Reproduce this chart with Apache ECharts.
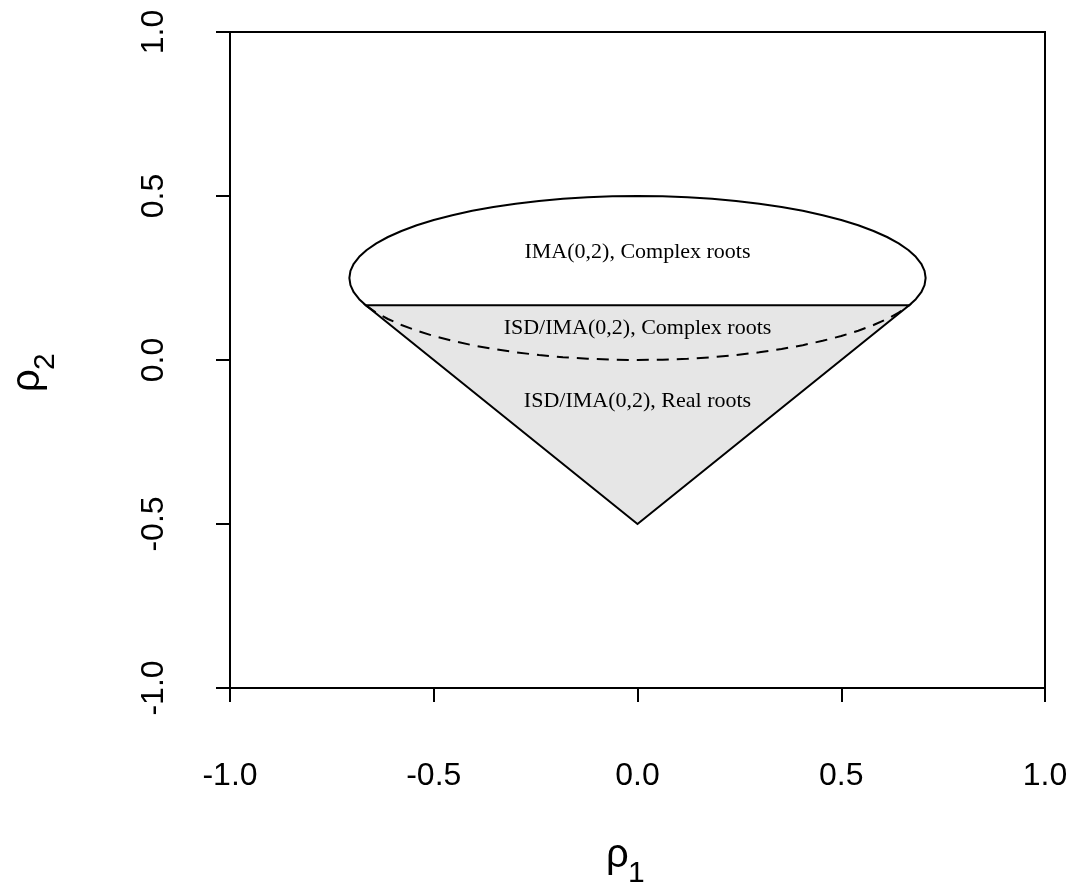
<!DOCTYPE html>
<html>
<head>
<meta charset="utf-8">
<script src="https://cdn.jsdelivr.net/npm/echarts@6/dist/echarts.min.js"></script>
<style>
html,body{margin:0;padding:0;background:#fff;}
#chart{width:1075px;height:892px;}
</style>
</head>
<body>
<div id="chart"></div>
<script>
// Axis ticks
const xTicks = [-1.0, -0.5, 0.0, 0.5, 1.0];
const yTicks = [-1.0, -0.5, 0.0, 0.5, 1.0];

// Upper (solid) arc of the boundary curve
const upperArc = [
  [0.6667,0.1667],[0.6830,0.1853],[0.6964,0.2066],[0.7044,0.2282],[0.7071,0.2500],
  [0.7044,0.2718],[0.6964,0.2934],[0.6830,0.3147],[0.6645,0.3355],[0.6409,0.3557],
  [0.6124,0.3750],[0.5792,0.3934],[0.5417,0.4107],[0.5000,0.4268],[0.4545,0.4415],
  [0.4056,0.4548],[0.3536,0.4665],[0.2988,0.4766],[0.2418,0.4849],[0.1830,0.4915],
  [0.1228,0.4962],[0.0616,0.4990],[0.0000,0.5000],
  [-0.0616,0.4990],[-0.1228,0.4962],[-0.1830,0.4915],[-0.2418,0.4849],[-0.2988,0.4766],
  [-0.3536,0.4665],[-0.4056,0.4548],[-0.4545,0.4415],[-0.5000,0.4268],[-0.5417,0.4107],
  [-0.5792,0.3934],[-0.6124,0.3750],[-0.6409,0.3557],[-0.6645,0.3355],[-0.6830,0.3147],
  [-0.6964,0.2934],[-0.7044,0.2718],[-0.7071,0.2500],[-0.7044,0.2282],[-0.6964,0.2066],
  [-0.6830,0.1853],[-0.6667,0.1667]
];

// Lower (dashed) arc
const lowerArc = [
  [-0.6667,0.1667],[-0.6409,0.1443],[-0.6124,0.1250],[-0.5792,0.1066],[-0.5417,0.0893],
  [-0.5000,0.0732],[-0.4545,0.0585],[-0.4056,0.0452],[-0.3536,0.0335],[-0.2988,0.0234],
  [-0.2418,0.0151],[-0.1830,0.0085],[-0.1228,0.0038],[-0.0616,0.0010],[0.0000,0.0000],
  [0.0616,0.0010],[0.1228,0.0038],[0.1830,0.0085],[0.2418,0.0151],[0.2988,0.0234],
  [0.3536,0.0335],[0.4056,0.0452],[0.4545,0.0585],[0.5000,0.0732],[0.5417,0.0893],
  [0.5792,0.1066],[0.6124,0.1250],[0.6409,0.1443],[0.6667,0.1667]
];

// Shaded triangle region
const triangle = [[-0.6667,0.1667],[0.6667,0.1667],[0.0,-0.5]];

// Region labels
const regionNames = ['IMA(0,2), Complex roots','ISD/IMA(0,2), Complex roots','ISD/IMA(0,2), Real roots'];
const regionX = [0.0, 0.0, 0.0];
const regionY = [0.33, 0.097, -0.127];

const chart = echarts.init(document.getElementById('chart'), null, {renderer:'canvas'});

const axisCommon = {
  type: 'value', min: -1, max: 1, interval: 0.5,
  axisLine: {show: true, onZero: false, lineStyle: {color: '#000', width: 2}},
  axisTick: {show: true, inside: false, length: 14, lineStyle: {color: '#000', width: 2}},
  splitLine: {show: false},
};

const option = {
  backgroundColor: '#fff',
  animation: false,
  grid: {left: 230, right: 30, top: 32, bottom: 204, show: true, borderColor: '#000', borderWidth: 2, backgroundColor: 'transparent'},
  xAxis: Object.assign({}, axisCommon, {
    axisLabel: {fontSize: 32, fontFamily: 'Liberation Sans', color: '#000', margin: 72,
      formatter: v => v.toFixed(1)}
  }),
  yAxis: Object.assign({}, axisCommon, {
    axisLabel: {fontSize: 32, fontFamily: 'Liberation Sans', color: '#000', margin: 60, rotate: 90,
      formatter: v => v.toFixed(1)}
  }),
  series: [
    {
      type: 'custom',
      data: [0],
      z: 1,
      silent: true,
      renderItem: (params, api) => {
        const pts = triangle.map(p => api.coord(p));
        return {type: 'polygon', shape: {points: pts},
          style: {fill: '#e6e6e6', stroke: '#000', lineWidth: 2, lineJoin: 'miter'}};
      }
    },
    {
      type: 'line', data: upperArc, showSymbol: false, symbol: 'none', z: 3,
      lineStyle: {color: '#000', width: 2}
    },
    {
      type: 'line', data: lowerArc, showSymbol: false, symbol: 'none', z: 3,
      lineStyle: {color: '#000', width: 2, type: [12, 8]}
    },
    {
      type: 'custom', z: 5, silent: true,
      data: regionNames.map((n, i) => [regionX[i], regionY[i], i]),
      renderItem: (params, api) => {
        const c = api.coord([api.value(0), api.value(1)]);
        return {type: 'text', x: c[0], y: c[1],
          style: {text: regionNames[api.value(2)], fontSize: 22, fontFamily: 'Liberation Serif',
            fill: '#000', align: 'center', verticalAlign: 'middle'}};
      }
    }
  ],
  graphic: [
    {type: 'text', left: 606, top: 836, style: {text: 'ρ', fontSize: 40, fontFamily: 'Liberation Sans', fill: '#000'}},
    {type: 'text', left: 628, top: 859, style: {text: '1', fontSize: 30, fontFamily: 'Liberation Sans', fill: '#000'}},
    {type: 'group', x: 8, y: 392, rotation: Math.PI/2, children: [
      {type: 'text', x: 0, y: 0, style: {text: 'ρ', fontSize: 40, fontFamily: 'Liberation Sans', fill: '#000'}},
      {type: 'text', x: 22, y: 23, style: {text: '2', fontSize: 30, fontFamily: 'Liberation Sans', fill: '#000'}}
    ]}
  ]
};
chart.setOption(option);
</script>
</body>
</html>
